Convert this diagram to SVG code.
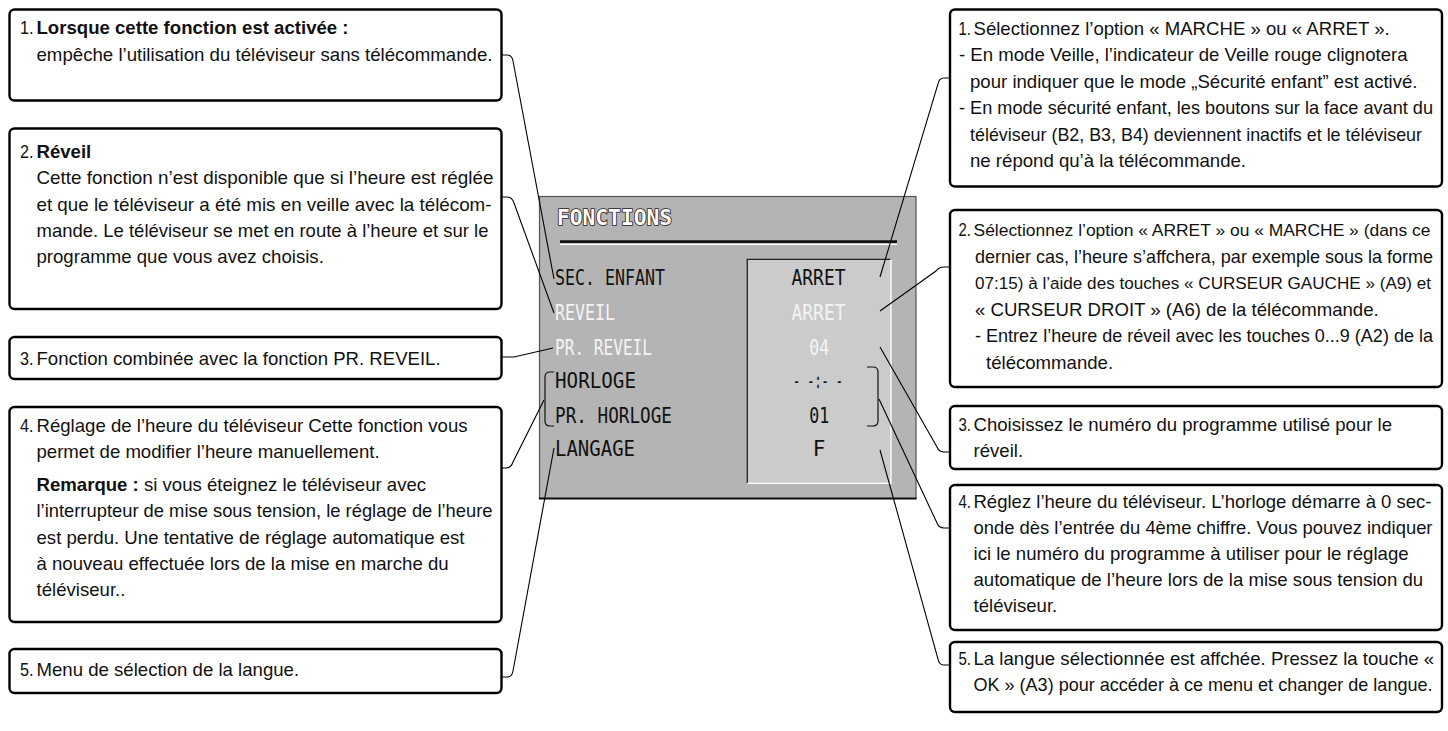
<svg xmlns="http://www.w3.org/2000/svg" width="1448" height="731" viewBox="0 0 1448 731">
<style>
.box{fill:#fff;stroke:#000;stroke-width:2.4}
.t{font-family:"Liberation Sans",Arial,sans-serif;font-size:18.6px;fill:#111}
.s{font-size:17.2px}
.b{font-weight:bold}
.con{fill:none;stroke:#000;stroke-width:1.1}
.mi{font-family:"DejaVu Sans Mono","Liberation Mono",monospace;font-size:21px}
.blk{fill:#111}
.wht{fill:#f4f4f4}
</style>
<rect width="1448" height="731" fill="#fff"/>

<g id="menu">
  <rect x="539.5" y="196.5" width="376.5" height="302" fill="#b4b4b4" stroke="#555" stroke-width="1.2"/>
  <line x1="539" y1="498.5" x2="916.5" y2="498.5" stroke="#111" stroke-width="2"/>
  <text x="557" y="225" class="mi" font-weight="bold" font-size="22" fill="#fff" stroke="#222" stroke-width="1.6" paint-order="stroke" textLength="115" lengthAdjust="spacingAndGlyphs">FONCTIONS</text>
  <line x1="560" y1="241.7" x2="897" y2="241.7" stroke="#111" stroke-width="3"/>
  <line x1="560" y1="244.2" x2="897" y2="244.2" stroke="#fff" stroke-width="1.4"/>
  <rect x="747.3" y="259.3" width="143.7" height="224" fill="#cbcbcb"/>
  <path d="M747.3,483.3 V259.3 H891" fill="none" stroke="#222" stroke-width="1.3"/>
  <path d="M891,259.3 V483.3 H747.3" fill="none" stroke="#fff" stroke-width="1.3"/>
  <text x="555" y="284.5" class="mi blk" textLength="110" lengthAdjust="spacingAndGlyphs">SEC. ENFANT</text>
  <text x="555" y="319.5" class="mi wht" textLength="60" lengthAdjust="spacingAndGlyphs">REVEIL</text>
  <text x="555" y="354.5" class="mi wht" textLength="97" lengthAdjust="spacingAndGlyphs">PR. REVEIL</text>
  <text x="555" y="388" class="mi blk" textLength="81" lengthAdjust="spacingAndGlyphs">HORLOGE</text>
  <text x="555" y="423" class="mi blk" textLength="117" lengthAdjust="spacingAndGlyphs">PR. HORLOGE</text>
  <text x="555" y="456" class="mi blk" textLength="80" lengthAdjust="spacingAndGlyphs">LANGAGE</text>
  <text x="818.5" y="284.5" class="mi blk" text-anchor="middle" textLength="54" lengthAdjust="spacingAndGlyphs">ARRET</text>
  <text x="818.5" y="319.5" class="mi wht" text-anchor="middle" textLength="54" lengthAdjust="spacingAndGlyphs">ARRET</text>
  <text x="819.3" y="354.5" class="mi wht" text-anchor="middle" textLength="20" lengthAdjust="spacingAndGlyphs">04</text>
  <text x="818" y="388" class="mi blk" text-anchor="middle" textLength="50" lengthAdjust="spacingAndGlyphs">- -:- -</text>
  <text x="819.3" y="423" class="mi blk" text-anchor="middle" textLength="20" lengthAdjust="spacingAndGlyphs">01</text>
  <text x="819" y="456" class="mi blk" text-anchor="middle">F</text>
  <path d="M554,372 H550 Q545,372 545,377 V421 Q545,426 550,426 H554" fill="none" stroke="#111" stroke-width="1.2"/>
  <path d="M867,367 H873 Q878,367 878,372 V421 Q878,426 873,426 H867" fill="none" stroke="#111" stroke-width="1.2"/>
</g>

<g id="connectors">
  <path class="con" d="M502,55 H507 Q512,55 513,61 L554,279"/>
  <path class="con" d="M502,197 H507 Q512,197 514,203 L554,313"/>
  <path class="con" d="M502,357 H514 L553,348"/>
  <path class="con" d="M502,468 H506 Q511,468 513,462 L544,400"/>
  <path class="con" d="M502,677 H507 Q512,677 513,671 L554,448"/>
  <path class="con" d="M950,78 H944 Q939,78 938,84 L880,277"/>
  <path class="con" d="M950,267 H944 Q939,267 936,271 L880,311"/>
  <path class="con" d="M950,452 H944 Q939,452 937,447 L880,347"/>
  <path class="con" d="M950,528 H944 Q939,528 937,523 L879,399"/>
  <path class="con" d="M950,665 H944 Q939,665 938,659 L880,450"/>
</g>

<g id="left1">
  <rect class="box" x="9.5" y="9.5" width="492" height="91" rx="5"/>
  <text class="t" x="20" y="34" textLength="13.5" lengthAdjust="spacingAndGlyphs">1.</text>
  <text class="t b" x="36.5" y="34">Lorsque cette fonction est activée :</text>
  <text class="t" x="36.5" y="61" textLength="456" lengthAdjust="spacingAndGlyphs">empêche l’utilisation du téléviseur sans télécommande.</text>
</g>
<g id="left2">
  <rect class="box" x="9.5" y="128.5" width="492" height="180.5" rx="5"/>
  <text class="t" x="20" y="158" textLength="13.5" lengthAdjust="spacingAndGlyphs">2.</text>
  <text class="t b" x="36.5" y="158">Réveil</text>
  <text class="t" x="36.5" y="184" textLength="457" lengthAdjust="spacingAndGlyphs">Cette fonction n’est disponible que si l’heure est réglée</text>
  <text class="t" x="36.5" y="210.5" textLength="455" lengthAdjust="spacingAndGlyphs">et que le téléviseur a été mis en veille avec la télécom-</text>
  <text class="t" x="36.5" y="237" textLength="452" lengthAdjust="spacingAndGlyphs">mande. Le téléviseur se met en route à l’heure et sur le</text>
  <text class="t" x="36.5" y="263">programme que vous avez choisis.</text>
</g>
<g id="left3">
  <rect class="box" x="9.5" y="337" width="492" height="42" rx="5"/>
  <text class="t" x="20" y="365" textLength="13.5" lengthAdjust="spacingAndGlyphs">3.</text>
  <text class="t" x="36.5" y="365">Fonction combinée avec la fonction PR. REVEIL.</text>
</g>
<g id="left4">
  <rect class="box" x="9.5" y="407" width="492" height="215" rx="5"/>
  <text class="t" x="20" y="432" textLength="13.5" lengthAdjust="spacingAndGlyphs">4.</text>
  <text class="t" x="36.5" y="432">Réglage de l’heure du téléviseur Cette fonction vous</text>
  <text class="t" x="36.5" y="458">permet de modifier l’heure manuellement.</text>
  <text class="t" x="36.5" y="491"><tspan class="b">Remarque :</tspan> si vous éteignez le téléviseur avec</text>
  <text class="t" x="36.5" y="517" textLength="456" lengthAdjust="spacingAndGlyphs">l’interrupteur de mise sous tension, le réglage de l’heure</text>
  <text class="t" x="36.5" y="543.5">est perdu. Une tentative de réglage automatique est</text>
  <text class="t" x="36.5" y="570">à nouveau effectuée lors de la mise en marche du</text>
  <text class="t" x="36.5" y="596">téléviseur..</text>
</g>
<g id="left5">
  <rect class="box" x="9.5" y="649" width="492" height="44" rx="5"/>
  <text class="t" x="20" y="676" textLength="13.5" lengthAdjust="spacingAndGlyphs">5.</text>
  <text class="t" x="36.5" y="676">Menu de sélection de la langue.</text>
</g>

<g id="right1">
  <rect class="box" x="950" y="9.5" width="492" height="177" rx="5"/>
  <text class="t" x="958.5" y="34.5" textLength="12.5" lengthAdjust="spacingAndGlyphs">1.</text>
  <text class="t" x="973.5" y="34.5">Sélectionnez l’option « MARCHE » ou « ARRET ».</text>
  <text class="t" x="959" y="61">- En mode Veille, l’indicateur de Veille rouge clignotera</text>
  <text class="t" x="970" y="87.5">pour indiquer que le mode „Sécurité enfant” est activé.</text>
  <text class="t" x="959" y="114" textLength="474" lengthAdjust="spacingAndGlyphs">- En mode sécurité enfant, les boutons sur la face avant du</text>
  <text class="t" x="970" y="140.5" textLength="452" lengthAdjust="spacingAndGlyphs">téléviseur (B2, B3, B4) deviennent inactifs et le téléviseur</text>
  <text class="t" x="970" y="167">ne répond qu’à la télécommande.</text>
</g>
<g id="right2">
  <rect class="box" x="950" y="210" width="492" height="177" rx="5"/>
  <text class="t" x="958.5" y="236" textLength="12.5" lengthAdjust="spacingAndGlyphs">2.</text>
  <text class="t s" x="973.5" y="236" textLength="457" lengthAdjust="spacingAndGlyphs">Sélectionnez l’option « ARRET » ou « MARCHE » (dans ce</text>
  <text class="t" x="975" y="262.5" textLength="458" lengthAdjust="spacingAndGlyphs">dernier cas, l’heure s’affchera, par exemple sous la forme</text>
  <text class="t s" x="975" y="289" textLength="456" lengthAdjust="spacingAndGlyphs">07:15) à l’aide des touches « CURSEUR GAUCHE » (A9) et</text>
  <text class="t" x="975" y="315.5">« CURSEUR DROIT » (A6) de la télécommande.</text>
  <text class="t" x="975" y="342" textLength="458" lengthAdjust="spacingAndGlyphs">- Entrez l’heure de réveil avec les touches 0...9 (A2) de la</text>
  <text class="t" x="986" y="368.5">télécommande.</text>
</g>
<g id="right3">
  <rect class="box" x="950" y="406" width="492" height="63" rx="5"/>
  <text class="t" x="958.5" y="431" textLength="12.5" lengthAdjust="spacingAndGlyphs">3.</text>
  <text class="t" x="973.5" y="431">Choisissez le numéro du programme utilisé pour le</text>
  <text class="t" x="973.5" y="457">réveil.</text>
</g>
<g id="right4">
  <rect class="box" x="950" y="485" width="492" height="145" rx="5"/>
  <text class="t" x="958.5" y="507.5" textLength="12.5" lengthAdjust="spacingAndGlyphs">4.</text>
  <text class="t" x="973.5" y="507.5" textLength="458" lengthAdjust="spacingAndGlyphs">Réglez l’heure du téléviseur. L’horloge démarre à 0 sec-</text>
  <text class="t" x="973.5" y="533.5" textLength="459" lengthAdjust="spacingAndGlyphs">onde dès l’entrée du 4ème chiffre. Vous pouvez indiquer</text>
  <text class="t" x="973.5" y="559.5">ici le numéro du programme à utiliser pour le réglage</text>
  <text class="t" x="973.5" y="585.5">automatique de l’heure lors de la mise sous tension du</text>
  <text class="t" x="973.5" y="611.5">téléviseur.</text>
</g>
<g id="right5">
  <rect class="box" x="950" y="642" width="492" height="70" rx="5"/>
  <text class="t" x="958.5" y="665" textLength="12.5" lengthAdjust="spacingAndGlyphs">5.</text>
  <text class="t" x="973.5" y="665">La langue sélectionnée est affchée. Pressez la touche «</text>
  <text class="t" x="973.5" y="691" textLength="459" lengthAdjust="spacingAndGlyphs">OK » (A3) pour accéder à ce menu et changer de langue.</text>
</g>
</svg>
